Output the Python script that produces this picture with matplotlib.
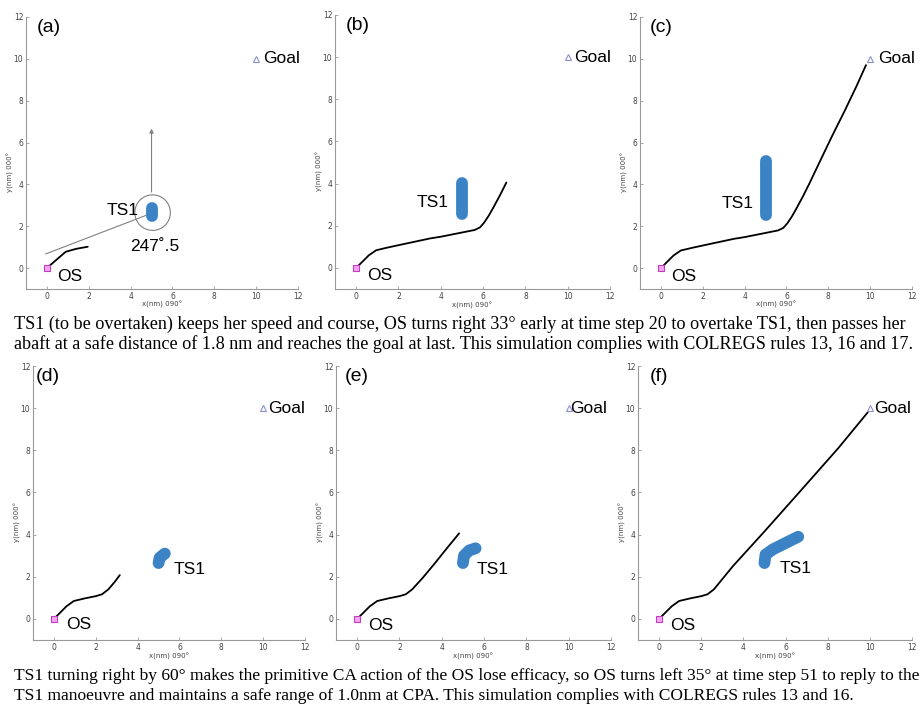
import matplotlib
matplotlib.use('Agg')
import matplotlib.pyplot as plt
from matplotlib.patches import Circle

# Own-ship track, top row (b is the first part of c)
os_top_x = [0.0, 0.3, 0.6, 0.95, 1.5, 2.1, 2.8, 3.5, 4.0, 4.6, 5.2, 5.6, 5.85, 6.05, 6.25, 6.45, 6.8, 7.1, 7.6, 8.2, 8.8, 9.35, 9.8]
os_top_y = [0.0, 0.3, 0.6, 0.84, 0.97, 1.1, 1.25, 1.4, 1.48, 1.6, 1.72, 1.8, 1.92, 2.15, 2.45, 2.8, 3.45, 4.05, 5.1, 6.35, 7.55, 8.7, 9.7]
os_b_len = 18          # points of the track shown in (b)
os_a_x = [0.0, 0.4, 0.9, 1.4, 1.95]
os_a_y = [0.0, 0.35, 0.78, 0.92, 1.02]

# Own-ship track, bottom row
os_d_x = [0.0, 0.3, 0.6, 0.95, 1.5, 2.0, 2.3, 2.6, 2.9, 3.15]
os_d_y = [0.0, 0.3, 0.6, 0.85, 0.98, 1.08, 1.17, 1.4, 1.75, 2.08]
os_e_x = os_d_x[:8] + [3.1, 3.6, 4.2, 4.82]
os_e_y = os_d_y[:8] + [1.95, 2.55, 3.3, 4.06]
os_f_x = os_d_x[:8] + [3.5, 5.0, 6.6, 8.5, 9.9]
os_f_y = os_d_y[:8] + [2.5, 4.15, 5.95, 8.1, 9.8]

# Target ship TS1 swept area (centre line)
ts_a_x = [5.0, 5.0]
ts_a_y = [2.5, 2.85]
ts_b_x = [5.0, 5.0]
ts_b_y = [2.55, 4.05]
ts_c_x = [5.0, 5.0]
ts_c_y = [2.55, 5.1]
ts_d_x = [5.0, 5.05, 5.3]
ts_d_y = [2.65, 2.9, 3.1]
ts_e_x = [5.0, 5.05, 5.3, 5.6]
ts_e_y = [2.65, 3.0, 3.25, 3.35]
ts_f_x = [5.0, 5.05, 5.4, 6.6]
ts_f_y = [2.65, 3.05, 3.3, 3.9]

goal = (10, 10)
start = (0, 0)

# Panel (a) geometry: bearing line, TS1 heading arrow, range circle
bearing_x = [-0.05, 4.95]
bearing_y = [0.68, 2.6]
heading_x = 5.0
heading_y = [3.5, 6.8]
circle_c = (5.05, 2.65)
circle_r = 0.85

ticks = [0, 2, 4, 6, 8, 10, 12]

captions_top = [
    "TS1 (to be overtaken) keeps her speed and course, OS turns right 33\u00b0 early at time step 20 to overtake TS1, then passes her",
    "abaft at a safe distance of 1.8 nm and reaches the goal at last. This simulation complies with COLREGS rules 13, 16 and 17.",
]
captions_bottom = [
    "TS1 turning right by 60\u00b0 makes the primitive CA action of the OS lose efficacy, so OS turns left 35\u00b0 at time step 51 to reply to the",
    "TS1 manoeuvre and maintains a safe range of 1.0nm at CPA. This simulation complies with COLREGS rules 13 and 16.",
]

W, H = 920, 707
BLUE = '#3b83c5'
SANS = 'Liberation Sans'
SERIF = 'Liberation Serif'


def make_axes(fig, left, top, w, h):
    ax = fig.add_axes([left / W, 1 - (top + h) / H, w / W, h / H])
    ax.set_xlim(-1, 12)
    ax.set_ylim(-1, 12)
    ax.set_xticks(ticks)
    ax.set_yticks(ticks)
    for s in ['top', 'right']:
        ax.spines[s].set_visible(False)
    for s in ['left', 'bottom']:
        ax.spines[s].set_color('#999999')
        ax.spines[s].set_linewidth(0.8)
    ax.tick_params(direction='in', length=2, width=0.6, colors='#999999',
                   labelsize=5.5, labelcolor='#444444', pad=2)
    ax.set_xlabel('x(nm) 090\u00b0', fontsize=5, color='#444444', labelpad=-1)
    ax.set_ylabel('y(nm) 000\u00b0', fontsize=5, color='#444444')
    ax.xaxis.set_label_coords(0.5, -0.045)
    ax.yaxis.set_label_coords(-0.045, 0.43)
    return ax


def common(ax, tag, tag_x, ts_pos, os_pos, goal_x):
    ax.plot(*start, marker='s', ms=4, mfc='#f3a6ef', mec='#c23bc0', mew=0.8)
    ax.plot(*goal, marker='^', ms=4.5, mfc='none', mec='#8a8fd0', mew=0.8)
    ax.text(goal_x, goal[1], 'Goal', fontsize=12.5, family=SANS, va='center', ha='left')
    ax.text(tag_x, 11.5, tag, fontsize=14, family=SANS, va='center', ha='left')
    ax.text(ts_pos[0], ts_pos[1], 'TS1', fontsize=12.5, family=SANS, va='center', ha='left')
    ax.text(os_pos[0], os_pos[1], 'OS', fontsize=12.5, family=SANS, va='center', ha='left')


def ts_blob(ax, xs, ys):
    ax.plot(xs, ys, color=BLUE, lw=8.5, solid_capstyle='round', solid_joinstyle='round')


def track(ax, xs, ys):
    ax.plot(xs, ys, color='black', lw=1.3, solid_capstyle='round')


def caption(fig, lines, y0, width_px=899, base=13.0):
    # shrink the paragraph so its longest line fits the page width
    texts = [fig.text(14 / W, 1 - (y0 + 20.5 * i) / H, line, family=SERIF,
                      fontsize=base, va='center', ha='left')
             for i, line in enumerate(lines)]
    r = fig.canvas.get_renderer()
    w = max(t.get_window_extent(renderer=r).width for t in texts)
    for t in texts:
        t.set_fontsize(base * width_px / w)


fig = plt.figure(figsize=(9.2, 7.07), dpi=100)

# (a)
ax = make_axes(fig, 26, 17, 272, 272)
ax.plot(bearing_x, bearing_y, color='#808080', lw=0.8)
ax.annotate('', xy=(heading_x, heading_y[1]), xytext=(heading_x, heading_y[0]),
            arrowprops=dict(arrowstyle='-|>', color='#808080', lw=0.8, mutation_scale=6))
ax.add_patch(Circle(circle_c, circle_r, fill=False, ec='#808080', lw=0.8))
ts_blob(ax, ts_a_x, ts_a_y)
track(ax, os_a_x, os_a_y)
ax.text(4.0, 1.05, '247\u02da.5', fontsize=12.5, family=SANS, va='center', ha='left')
common(ax, '(a)', -0.5, (2.85, 2.75), (0.48, -0.4), 10.35)

# (b)
ax = make_axes(fig, 335, 15, 275, 274)
ts_blob(ax, ts_b_x, ts_b_y)
track(ax, os_top_x[:os_b_len], os_top_y[:os_b_len])
common(ax, '(b)', -0.5, (2.87, 3.1), (0.52, -0.35), 10.3)

# (c)
ax = make_axes(fig, 640, 17, 272, 272)
ts_blob(ax, ts_c_x, ts_c_y)
track(ax, os_top_x, os_top_y)
common(ax, '(c)', -0.53, (2.9, 3.1), (0.5, -0.4), 10.4)

# (d)
ax = make_axes(fig, 33, 366, 272, 274)
ts_blob(ax, ts_d_x, ts_d_y)
track(ax, os_d_x, os_d_y)
common(ax, '(d)', -0.85, (5.7, 2.36), (0.59, -0.27), 10.24)

# (e)
ax = make_axes(fig, 336, 366, 275, 274)
ts_blob(ax, ts_e_x, ts_e_y)
track(ax, os_e_x, os_e_y)
common(ax, '(e)', -0.58, (5.64, 2.36), (0.52, -0.3), 10.05)

# (f)
ax = make_axes(fig, 638, 366, 274, 274)
ts_blob(ax, ts_f_x, ts_f_y)
track(ax, os_f_x, os_f_y)
common(ax, '(f)', -0.43, (5.72, 2.4), (0.53, -0.3), 10.2)

# captions
caption(fig, captions_top, 324)
caption(fig, captions_bottom, 676)

fig.savefig('out.png', dpi=100)
